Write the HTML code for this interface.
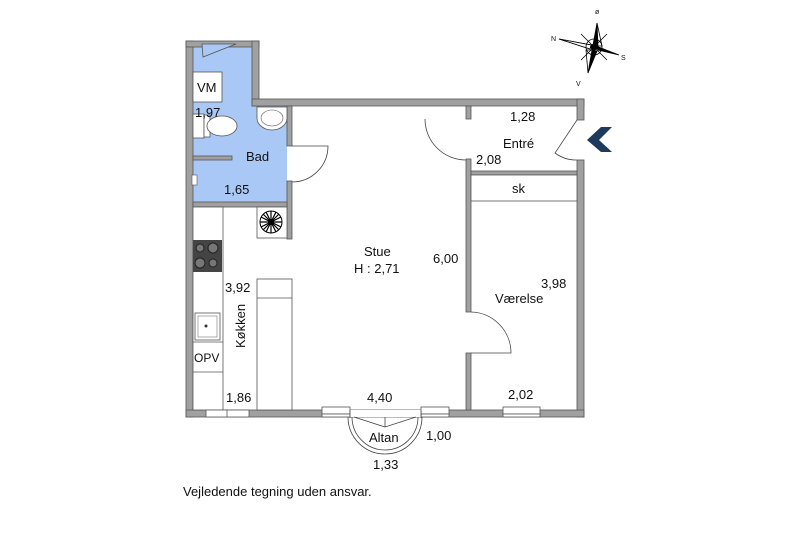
<!DOCTYPE html>
<html><head><meta charset="utf-8"><style>
html,body{margin:0;padding:0;background:#fff;width:800px;height:533px;overflow:hidden}
svg text{font-family:"Liberation Sans",sans-serif;font-size:13px;fill:#111}
</style></head><body>
<svg width="800" height="533" viewBox="0 0 800 533" xmlns="http://www.w3.org/2000/svg">
<!-- bath blue -->
<path d="M193 47 H252 V106 H287 V202 H193 Z" fill="#a9c8f5"/>
<g fill="#a0a0a0" stroke="#555" stroke-width="0.8">
<!-- outer walls -->
<rect x="186" y="41" width="7" height="376"/>
<rect x="186" y="41" width="73" height="6"/>
<rect x="252" y="41" width="7" height="65"/>
<rect x="252" y="99" width="332" height="7"/>
<rect x="577" y="99" width="7" height="21"/>
<rect x="577" y="160" width="7" height="257"/>
<rect x="186" y="410" width="398" height="7"/>
<!-- bath right wall -->
<rect x="287" y="106" width="5" height="40"/>
<rect x="287" y="181" width="5" height="58"/>
<!-- bath bottom -->
<rect x="193" y="202" width="94" height="5"/>
<rect x="193" y="156" width="39" height="4"/>
<!-- entre/bedroom wall -->
<rect x="466" y="106" width="5" height="13"/>
<rect x="466" y="159" width="5" height="153"/>
<rect x="466" y="353" width="5" height="57"/>
<rect x="471" y="171" width="106" height="4"/>
</g>
<!-- bath top door opening -->
<path d="M202 44 H236 L203 57 Z" fill="#a9c8f5" stroke="#555" stroke-width="0.8"/>
<!-- VM -->
<rect x="193" y="72" width="29" height="30" fill="#fff" stroke="#555" stroke-width="0.8"/>
<text x="197" y="92">VM</text>
<!-- toilet -->
<rect x="193" y="114" width="11" height="24" fill="#fff" stroke="#555" stroke-width="0.8"/>
<rect x="204" y="115" width="6" height="22" fill="#fff" stroke="#555" stroke-width="0.8"/>
<ellipse cx="222" cy="126" rx="15" ry="10" fill="#fff" stroke="#555" stroke-width="0.8"/>
<!-- sink -->
<path d="M257 107 H287 V118 A15 12 0 0 1 257 118 Z" fill="#fff" stroke="#555" stroke-width="0.8"/>
<ellipse cx="272" cy="118" rx="11" ry="8" fill="#fff" stroke="#555" stroke-width="0.6"/>
<!-- small fixture -->
<rect x="192" y="175" width="5" height="10" fill="#fff" stroke="#555" stroke-width="0.6"/>
<!-- kitchen counter -->
<rect x="193" y="207" width="30" height="203" fill="#fff" stroke="#555" stroke-width="0.8"/>
<rect x="193" y="240" width="29" height="32" fill="#444"/>
<circle cx="200" cy="248" r="4" fill="#777" stroke="#222"/><circle cx="213" cy="248" r="5" fill="#777" stroke="#222"/>
<circle cx="200" cy="263" r="5" fill="#777" stroke="#222"/><circle cx="213" cy="263" r="4" fill="#777" stroke="#222"/>
<rect x="195" y="313" width="25" height="27" fill="#fff" stroke="#555" stroke-width="0.8"/>
<rect x="198" y="316" width="19" height="21" fill="#fff" stroke="#777" stroke-width="0.6"/>
<circle cx="206" cy="326" r="1.5" fill="#333"/>
<line x1="193" y1="342" x2="223" y2="342" stroke="#555" stroke-width="0.8"/>
<line x1="193" y1="372" x2="223" y2="372" stroke="#555" stroke-width="0.8"/>
<text x="194" y="362" style="font-size:12px">OPV</text>
<!-- fan -->
<rect x="257" y="207" width="30" height="31" fill="#fff" stroke="#555" stroke-width="0.8"/>
<circle cx="271" cy="222" r="11" fill="#fff" stroke="#000" stroke-width="1"/>
<g stroke="#000" stroke-width="1.2">
<line x1="260" y1="222" x2="282" y2="222"/><line x1="271" y1="211" x2="271" y2="233"/>
<line x1="263" y1="214" x2="279" y2="230"/><line x1="279" y1="214" x2="263" y2="230"/>
<line x1="261" y1="217" x2="281" y2="227"/><line x1="261" y1="227" x2="281" y2="217"/>
<line x1="266" y1="212" x2="276" y2="232"/><line x1="276" y1="212" x2="266" y2="232"/>
</g>
<circle cx="271" cy="222" r="3" fill="#000"/>
<!-- fridge/island -->
<rect x="257" y="279" width="35" height="131" fill="#fff" stroke="#555" stroke-width="0.8"/>
<line x1="257" y1="298" x2="292" y2="298" stroke="#555" stroke-width="0.8"/>
<!-- sk -->
<rect x="471" y="175" width="106" height="26" fill="#fff" stroke="#555" stroke-width="0.8"/>
<!-- doors -->
<g fill="none" stroke="#444" stroke-width="0.8">
<path d="M292 146 H328 A36 36 0 0 1 292 182"/>
<path d="M425 119 A41 41 0 0 0 466 160"/>
<path d="M471 312 A41 41 0 0 1 511 353 H471"/>
<path d="M577 120 L555 153 A36 36 0 0 0 577 160"/>
</g>
<!-- windows -->
<g fill="#fff" stroke="#555" stroke-width="0.8">
<rect x="206" y="410" width="43" height="7"/><line x1="227" y1="410" x2="227" y2="417"/>
<rect x="322" y="407" width="28" height="7"/><rect x="322" y="414" width="28" height="3"/>
<rect x="421" y="407" width="28" height="7"/><rect x="421" y="414" width="28" height="3"/>
<rect x="503" y="407" width="37" height="7"/><rect x="503" y="414" width="37" height="3"/>
</g>
<rect x="350" y="410" width="71" height="7" fill="#fff"/>
<g fill="none" stroke="#444" stroke-width="0.8">
<path d="M348 417 A37 37 0 0 0 422 417"/>
<path d="M352 417 A33 33 0 0 0 418 417"/>
<path d="M354 417 L385 427 L416 417"/><line x1="385" y1="417" x2="385" y2="427"/>
<line x1="350" y1="410" x2="350" y2="418"/><line x1="421" y1="410" x2="421" y2="418"/>
</g>
<!-- arrow -->
<path d="M612 127 H601 L587 140 L601 152 H612 L599 140 Z" fill="#1b3a5c"/>
<!-- compass -->
<g stroke="#000" stroke-width="0.8" fill="#000">
<path d="M597 23 L593 45 L598 46 Z"/><path d="M597 23 L598 46 L602 46 Z" fill="#fff"/>
<path d="M588 73 L592 50 L597 51 Z"/><path d="M588 73 L586 50 L592 50 Z" fill="#fff"/>
<path d="M559 39 L591 45 L590 49 Z"/><path d="M619 55 L598 50 L596 46 Z"/>
<path d="M559 39 L590 49 L591 45 Z" fill="#fff"/>
<circle cx="594" cy="47" r="8" fill="none"/>
<line x1="581" y1="34" x2="607" y2="60"/><line x1="607" y1="34" x2="581" y2="60"/>
<circle cx="594" cy="47" r="3"/>
</g>
<text x="595" y="14" style="font-size:7px">ø</text>
<text x="551" y="41" style="font-size:7px">N</text>
<text x="621" y="60" style="font-size:7px">S</text>
<text x="576" y="86" style="font-size:7px">V</text>
<!-- labels -->
<text x="195" y="117">1,97</text>
<text x="246" y="161">Bad</text>
<text x="224" y="194">1,65</text>
<text x="510" y="121">1,28</text>
<text x="503" y="148">Entré</text>
<text x="476" y="164">2,08</text>
<text x="512" y="193">sk</text>
<text x="364" y="256">Stue</text>
<text x="354" y="273">H : 2,71</text>
<text x="433" y="263">6,00</text>
<text x="541" y="288">3,98</text>
<text x="495" y="303">Værelse</text>
<text x="225" y="292">3,92</text>
<text transform="translate(245,348) rotate(-90)">Køkken</text>
<text x="226" y="402">1,86</text>
<text x="367" y="402">4,40</text>
<text x="508" y="399">2,02</text>
<text x="369" y="442">Altan</text>
<text x="426" y="440">1,00</text>
<text x="373" y="469">1,33</text>
<text x="183" y="496">Vejledende tegning uden ansvar.</text>
</svg>
</body></html>
